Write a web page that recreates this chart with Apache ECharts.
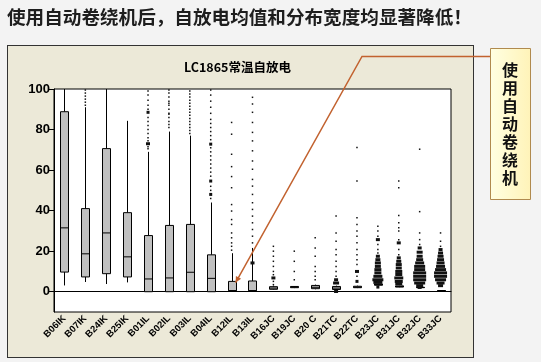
<!DOCTYPE html>
<html><head><meta charset="utf-8">
<script src="https://cdn.jsdelivr.net/npm/echarts@6/dist/echarts.min.js"></script>
<style>
html,body{margin:0;padding:0;background:#f3f3f3;}
#panel{position:absolute;left:7px;top:45px;width:465px;height:311px;background:#ECE9D8;border:1px solid #333;box-sizing:content-box;}
#c{position:absolute;left:0;top:0;width:541px;height:362px;}
</style>
</head><body><div id="panel"></div><div id="c"></div>
<script>
const heading = '使用自动卷绕机后，自放电均值和分布宽度均显著降低！';
const chartTitle = 'LC1865常温自放电';
const calloutText = '使用自动卷绕机';
const categories = ['B06IK','B07IK','B24IK','B25IK','B01IL','B02IL','B03IL','B04IL','B12IL','B13IL','B16JC','B19JC','B20 C','B21TC','B22TC','B23JC','B31JC','B32JC','B33JC'];
const yTicks = [0, 20, 40, 60, 80, 100];
const boxMin    = [3.1, 4.8, 3.8, 4.6, 0, 0, 0, 0, 0, 0, 1.0, 1.8, 1.2, 1.0, 1.8, 3.0, 2.2, 2.0, 0.6];
const boxQ1     = [9.7, 7.3, 8.9, 7.3, 0, 0, 0, 0, 0.5, 0.5, 1.2, 2.0, 1.5, 1.1, 2.0, 3.2, 2.3, 2.0, 0.6];
const boxMedian = [31.5, 18.7, 29, 17.2, 6.3, 6.8, 9.6, 6.6, 0.5, 0.5, 1.8, 2.3, 2.2, 1.8, 2.3, 3.5, 2.6, 2.1, 0.6];
const boxQ3     = [88.8, 41, 70.6, 39, 27.7, 32.7, 33.2, 18.2, 5.1, 5.3, 2.5, 2.6, 3.1, 2.6, 2.7, 3.8, 2.9, 2.2, 0.6];
const boxMax    = [100, 91, 100, 84.3, 69, 79, 77, 44, 19, 21.6, 3.0, 2.8, 3.5, 3.0, 3.0, 4.0, 3.0, 2.2, 0.6];
// outlying / individual values per category: number = single point, [value, count] = repeated points
const dots = [
  [],
  [92, 93.5, 95, 96.5, 98, 99.5],
  [],
  [],
  [70.5, 71.5, [73, 3], 74.5, 76, 78, 80, 82, 84, 86, [88.5, 2], 90, 92, 94.5, 97, 99],
  [81, 82.5, 84, 86, 87.5, 88, 90, 92, 93, 94, 96, 98, 99.5],
  [78, 79.5, 81, 82.5, 84, 85.5, 87, 88.5, 90, 91.5, 93, 94.5, 96, 97.5, 99],
  [46, [48, 2], 50, 52, [54.6, 2], 57, 59, 61, 63, 65, 67, 69, 71, [72.8, 2], 75, 77, 79, 81, 83, 85, 88, 91, 94, 97, 99.5],
  [20.5, 22.4, 24.1, 26.6, 29, 33.2, 35.6, 39.8, 43, 51.3, 56.8, 61.7, 67.8, 77.7, 83.5],
  [24.1, 27.4, 30.7, 34, 37.3, 40.6, 43.9, 48, 52.1, 55.4, 60.4, 64.5, 69.5, 74.4, 78.6, 83.5, 88.5, 92.6, 95.9, [14.2, 3]],
  [3.5, 5.1, [6.8, 3], 8.4, 10, 12.5, 15, 17.5, 20, 22.4],
  [5.9, 10, 15, 20],
  [5.9, 7.6, 10, 12.5, 17.5, 21.6, 26.6],
  [[0.1, 3], [4.3, 5], [5.9, 3], 7.6, 10, 12.5, 15, 18.3, 20.8, 24.9, 29, 37.3],
  [[5.1, 2], 7.6, [10, 3], 13.4, 15.8, 18.3, 20.8, 24.1, 27.4, 29.9, 33.2, 36.5, 54.6, 71.1],
  [[2.3, 2], [4.6, 8], [5.9, 10], [7.6, 8], [9.3, 6], [10.9, 6], [12.5, 5], [14.2, 5], [15.8, 4], [17.5, 3], 19.1, 20.8, 23.3, [25.7, 3], 27.4, 29.9, 32.3],
  [[4, 6], [5.1, 7], [6.8, 8], [8.5, 6], [10, 6], [11.7, 5], [13.4, 5], [15, 4], [16.7, 3], 18.3, 20.8, [24.1, 3], 25.7, 29.9, 31.5, 34, 37.6, 51.3, 54.6],
  [[2.1, 3], [3, 6], [4.3, 10], [5.9, 12], [7.6, 12], [9.3, 12], [10.9, 10], [12.5, 10], [14.2, 8], [15.8, 6], [17.5, 5], [19.5, 5], [21.6, 3], 23.3, 25.7, 29, 39.5, 70.3],
  [[3, 4], [4.3, 7], [5.9, 10], [7.6, 12], [9.3, 12], [10.9, 10], [12.5, 8], [14.2, 7], [15.8, 6], [17.5, 5], [19.1, 4], [20.8, 3], 22.4, 24.9, 29]
];
const calloutTarget = ['B12IL', 4.5];

const boxData = categories.map((c, i) => [i, boxMin[i], boxQ1[i], boxMedian[i], boxQ3[i], boxMax[i]]);
const dotData = [];
dots.forEach((arr, i) => arr.forEach(d => {
  const v = Array.isArray(d) ? d[0] : d;
  const n = Array.isArray(d) ? d[1] : 1;
  dotData.push([i, v, n]);
}));

function renderBox(params, api) {
  const i = api.value(0);
  const pMin = api.coord([i, api.value(1)]);
  const pQ1 = api.coord([i, api.value(2)]);
  const pMed = api.coord([i, api.value(3)]);
  const pQ3 = api.coord([i, api.value(4)]);
  const pMax = api.coord([i, api.value(5)]);
  const w = Math.round(api.size([1, 0])[0] * 0.38);
  const x = Math.round(pMin[0]) + 0.5;
  const st = { stroke: '#000', lineWidth: 1 };
  return {
    type: 'group', children: [
      { type: 'line', shape: { x1: x, y1: pMax[1], x2: x, y2: pQ3[1] }, style: st },
      { type: 'line', shape: { x1: x, y1: pQ1[1], x2: x, y2: pMin[1] }, style: st },
      { type: 'rect', shape: { x: x - w / 2, y: pQ3[1], width: w, height: Math.max(pQ1[1] - pQ3[1], 0) }, style: { fill: '#c0c0c0', stroke: '#000', lineWidth: 1 } },
      { type: 'line', shape: { x1: x - w / 2, y1: pMed[1], x2: x + w / 2, y2: pMed[1] }, style: st }
    ]
  };
}

const chart = echarts.init(document.getElementById('c'), null, { renderer: 'canvas' });
chart.setOption({
  animation: false,
  backgroundColor: 'transparent',
  title: [
    { text: heading, left: 7, top: 8, padding: 0,
      textStyle: { fontSize: 18.6, fontWeight: 'bold', color: '#1e1e1e', fontFamily: '"Noto Sans CJK SC"' } },
    { text: chartTitle, left: 184, top: 61, padding: 0,
      textStyle: { fontSize: 12.5, fontWeight: 'bold', color: '#000', fontFamily: '"Noto Sans CJK SC"' } }
  ],
  grid: { left: 54, right: 90, top: 89, bottom: 50, show: true, backgroundColor: '#fff', borderColor: '#000', borderWidth: 1 },
  xAxis: {
    type: 'category', data: categories, boundaryGap: true,
    axisLine: { lineStyle: { color: '#000' } },
    axisTick: { alignWithLabel: true, interval: 0, length: 4, lineStyle: { color: '#000' } },
    axisLabel: { rotate: 45, interval: 0, fontSize: 9.5, fontWeight: 'bold', color: '#000', margin: 5, fontFamily: 'Liberation Sans' },
    splitLine: { show: false }
  },
  yAxis: {
    type: 'value', min: -10, max: 100,
    axisLine: { show: true, lineStyle: { color: '#000' } },
    axisTick: { show: true, length: 5, customValues: yTicks, lineStyle: { color: '#000' } },
    axisLabel: { customValues: yTicks, fontSize: 13, fontWeight: 'bold', color: '#000', margin: 4, fontFamily: 'Liberation Sans' },
    splitLine: { show: false }
  },
  series: [
    { type: 'custom', renderItem: renderBox, data: boxData, encode: { x: 0, y: [1, 2, 3, 4, 5] }, silent: true, z: 2 },
    { type: 'scatter', data: dotData, encode: { x: 0, y: 1 }, symbol: 'rect',
      symbolSize: v => v[2] > 1 ? [v[2] + 1, 3] : [1.5, 1.5],
      itemStyle: { color: '#111', opacity: 1 }, silent: true, z: 3 }
  ]
});

const tip = chart.convertToPixel({ gridIndex: 0 }, [categories.indexOf(calloutTarget[0]), calloutTarget[1]]);
const tx = tip[0] + 4, ty = tip[1];
const sx = 362, sy = 56.5;
const ang = Math.atan2(ty - sy, tx - sx);
const ah = 6, aw = 3;
const bx = tx - ah * Math.cos(ang), by = ty - ah * Math.sin(ang);
const arrow = [[tx, ty], [bx + aw * Math.sin(ang), by - aw * Math.cos(ang)], [bx - aw * Math.sin(ang), by + aw * Math.cos(ang)]];
chart.setOption({
  graphic: { elements: [
    { type: 'polyline', shape: { points: [[490, sy], [sx, sy], [tx, ty]] }, style: { stroke: '#C2622F', lineWidth: 1.5, fill: null }, z: 100 },
    { type: 'polygon', shape: { points: arrow }, style: { fill: '#C2622F' }, z: 100 },
    { type: 'rect', shape: { x: 490.5, y: 48.5, width: 40, height: 151 },
      style: { fill: new echarts.graphic.LinearGradient(0, 0, 1, 0, [{ offset: 0, color: '#FFFFE2' }, { offset: 1, color: '#FFF3B8' }]), stroke: '#B08A4E', lineWidth: 1 }, z: 100 },
    { type: 'text', x: 510, y: 124, z: 101,
      style: { text: calloutText.split('').join('\n'), align: 'center', verticalAlign: 'middle', lineHeight: 18,
        font: 'bold 16px "Noto Sans CJK SC"', fill: '#111' } }
  ] }
});
</script>
</body></html>
